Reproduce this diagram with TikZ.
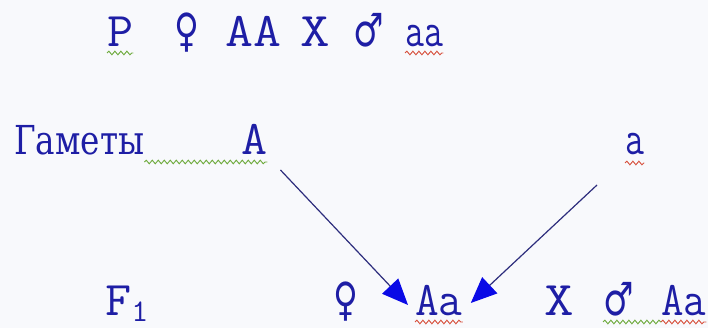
\documentclass[tikz,border=0pt]{standalone}
\usepackage{fontspec}
\usepackage{graphicx}
\usetikzlibrary{arrows.meta,decorations.pathmorphing}
\newfontfamily\courfont{Latin Modern Mono}
\newfontfamily\cyrfont{DejaVu Serif}
\newfontfamily\symfont{DejaVu Sans}
\definecolor{inkCol}{RGB}{30,30,165}
\definecolor{lineCol}{RGB}{45,45,125}
\definecolor{headCol}{RGB}{10,10,230}
\definecolor{bgCol}{RGB}{248,249,252}
\definecolor{spGreen}{RGB}{110,170,60}
\definecolor{spRed}{RGB}{215,80,60}
\tikzset{
  gen/.style={inner sep=0pt,anchor=base west,text=inkCol,
              font=\courfont\fontsize{46}{46}\selectfont},
  word/.style={gen,font=\cyrfont\fontsize{38}{38}\selectfont},
  sex/.style={gen,font=\symfont\fontsize{40}{40}\selectfont},
  cross/.style={-{Triangle[length=26pt,width=22pt,color=headCol]},
                draw=lineCol,line width=1.2pt},
  wavy/.style={decorate,decoration={snake,segment length=6pt,amplitude=1.8pt},
               line width=0.9pt},
}
\newcommand{\tall}[2][1]{\scalebox{#1}[1.05]{#2}}

\begin{document}
\begin{tikzpicture}[x=1pt,y=-1pt]
  \fill[bgCol] (0,0) rectangle (708,328);
  \useasboundingbox (0,0) rectangle (708,328);
  % parents
  \node[gen] (pP) at (107,47) {\tall[1.1]{P}};
  \node[sex] (pF) at (174,47) {\scalebox{0.85}[1.15]{♀}};
  \node[gen] (pAA) at (225,47) {\tall[1.18]{AA}};
  \node[gen] (pX) at (300,47) {\tall[1.25]{X}};
  \node[sex] (pM) at (353,47) {\scalebox{0.85}[1.15]{♂}};
  \node[gen] (paa) at (405,47) {\tall[0.8]{aa}};
  % gametes
  \node[word] (gam) at (14,155) {\tall[0.86]{Гаметы}};
  \node[gen] (gA) at (241,155) {\tall[1.1]{A}};
  \node[gen] (ga) at (625,155) {\tall[0.8]{a}};
  % offspring
  \node[gen] (f1) at (105,315) {\tall[1.1]{F\raisebox{-6pt}{\fontsize{30}{30}\selectfont 1}}};
  \node[sex] (kF) at (333,315) {\scalebox{0.85}[1.15]{♀}};
  \node[gen] (kAa) at (415,315) {\tall{Aa}};
  \node[gen] (kX) at (544,315) {\tall[1.25]{X}};
  \node[sex] (kM) at (603,315) {\scalebox{0.85}[1.15]{♂}};
  \node[gen] (kAa2) at (661,315) {\tall[0.95]{Aa}};

  \draw[cross] ([xshift=13pt,yshift=-15pt]gA.base east)
    -- ([xshift=-7pt,yshift=10pt]kAa.base west);
  \draw[cross] ([xshift=-28pt,yshift=-30pt]ga.base west)
    -- ([xshift=8pt,yshift=12pt]kAa.base east);

  % spelling marks
  \draw[wavy,spGreen] ([yshift=-6pt]pP.base west) -- ([yshift=-6pt]pP.base east);
  \draw[wavy,spRed] ([yshift=-6pt]paa.base west) -- ([yshift=-6pt]paa.base east);
  \draw[wavy,spGreen] ([yshift=-7pt]gam.base east) -- ([yshift=-7pt]gA.base east);
  \draw[wavy,spRed] ([yshift=-8pt]ga.base west) -- ([yshift=-8pt]ga.base east);
  \draw[wavy,spRed] ([yshift=-7pt]kAa.base west) -- ([yshift=-7pt]kAa.base east);
  \draw[wavy,spGreen] ([yshift=-7pt]kM.base west) -- ([yshift=-7pt]kAa2.base west);
  \draw[wavy,spRed] ([yshift=-7pt]kAa2.base west) -- ([yshift=-7pt]kAa2.base east);
\end{tikzpicture}
\end{document}
